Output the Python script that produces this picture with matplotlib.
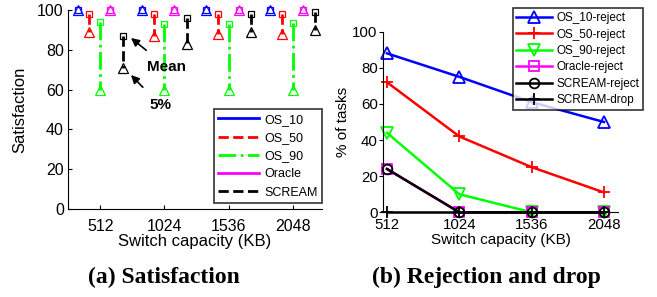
import matplotlib.pyplot as plt
import numpy as np

plt.rcParams['font.family'] = ['Liberation Sans', 'DejaVu Sans']

# switch capacities (KB)
caps = [512, 1024, 1536, 2048]

# (a) satisfaction: mean and 5th percentile per scheme
schemes = ["OS_10", "OS_50", "OS_90", "Oracle", "SCREAM"]
sat_mean = {
    "OS_10": [100, 100, 100, 100],
    "OS_50": [98, 98, 98, 98],
    "OS_90": [94, 93, 93, 93.5],
    "Oracle": [100, 100, 100, 100],
    "SCREAM": [87, 96, 98, 99],
}
sat_p5 = {
    "OS_10": [100, 100, 100, 100],
    "OS_50": [89, 87, 88, 88],
    "OS_90": [60, 60, 60, 60],
    "Oracle": [100, 100, 100, 100],
    "SCREAM": [71, 83, 89, 90],
}

# (b) rejection and drop (% of tasks)
rej_labels = ["OS_10-reject", "OS_50-reject", "OS_90-reject",
              "Oracle-reject", "SCREAM-reject", "SCREAM-drop"]
rej_vals = {
    "OS_10-reject": [88, 75, 61, 50],
    "OS_50-reject": [72, 42, 25, 11],
    "OS_90-reject": [44, 10, 0, 0],
    "Oracle-reject": [24, 0, 0, 0],
    "SCREAM-reject": [24, 0, 0, 0],
    "SCREAM-drop": [0, 0, 0, 0],
}

# styles
sch_color = {"OS_10": "#0000ff", "OS_50": "#ff0000", "OS_90": "#00ff00",
             "Oracle": "#ff00ff", "SCREAM": "#000000"}
sch_ls = {"OS_10": "-", "OS_50": "--", "OS_90": "-.", "Oracle": "-", "SCREAM": "--"}
sch_off = {"OS_10": -180, "OS_50": -85, "OS_90": 0, "Oracle": 80, "SCREAM": 180}

rej_style = {
    "OS_10-reject": ("#0000ff", "^"),
    "OS_50-reject": ("#ff0000", "+"),
    "OS_90-reject": ("#00ff00", "v"),
    "Oracle-reject": ("#ff00ff", "s"),
    "SCREAM-reject": ("#000000", "o"),
    "SCREAM-drop": ("#000000", "+"),
}

fig = plt.figure(figsize=(6.57, 2.97), dpi=100)

# ---------- (a) Satisfaction ----------
ax1 = fig.add_axes([68/657, 1-209/297, (322-68)/657, (209-10)/297])
for s in schemes:
    c = sch_color[s]
    for i, cap in enumerate(caps):
        x = cap + sch_off[s]
        ax1.plot([x, x], [sat_mean[s][i], sat_p5[s][i]], color=c, ls=sch_ls[s], lw=2,
                 clip_on=False)
        ax1.plot(x, sat_mean[s][i], marker="s", ms=5, mfc="none", mec=c, mew=0.9, clip_on=False)
        ax1.plot(x, sat_p5[s][i], marker="^", ms=6.5, mfc="none", mec=c, mew=0.9, clip_on=False)
# legend handles (lines only)
handles = [plt.Line2D([], [], color=sch_color[s], ls=sch_ls[s], lw=2) for s in schemes]
leg1 = ax1.legend(handles, schemes, loc="lower right", bbox_to_anchor=(1.0, 0.03),
                  fontsize=9, frameon=True, fancybox=False, handlelength=3.3,
                  handletextpad=0.4, labelspacing=0.5, borderpad=0.35, borderaxespad=0)
leg1.get_frame().set_edgecolor("black")
leg1.get_frame().set_linewidth(1.2)

ax1.set_xlim(256, 2280)
ax1.set_ylim(0, 100)
ax1.set_xticks(caps)
ax1.set_yticks([0, 20, 40, 60, 80, 100])
ax1.tick_params(labelsize=11.5, direction="in", length=3, pad=3)
ax1.tick_params(axis="x", pad=7.5)
ax1.spines["top"].set_visible(False)
ax1.spines["right"].set_visible(False)
ax1.set_xlabel("Switch capacity (KB)", fontsize=12, labelpad=0)
ax1.set_ylabel("Satisfaction", fontsize=12, labelpad=7)

# annotations (figure pixel coordinates converted)
def fpx(x, y):
    return (x/657, 1-y/297)

ax1.annotate("Mean", xy=fpx(131, 38), xycoords="figure fraction",
             xytext=fpx(167, 67), textcoords="figure fraction",
             fontsize=11, fontweight="bold", ha="center", va="center",
             arrowprops=dict(arrowstyle="-|>", color="black", lw=1.2,
                             shrinkA=8, shrinkB=0, mutation_scale=12))
ax1.annotate("5%", xy=fpx(131, 75), xycoords="figure fraction",
             xytext=fpx(160, 105), textcoords="figure fraction",
             fontsize=11, fontweight="bold", ha="center", va="center",
             arrowprops=dict(arrowstyle="-|>", color="black", lw=1.2,
                             shrinkA=8, shrinkB=0, mutation_scale=12))

fig.text(164/657, 1-277/297, "(a) Satisfaction", family="Liberation Serif",
         fontweight="bold", fontsize=17, ha="center", va="center")

# ---------- (b) Rejection and drop ----------
ax2 = fig.add_axes([383.3/657, 1-212.3/297, (618-383.3)/657, (212.3-31.7)/297])
for lab in rej_labels:
    c, m = rej_style[lab]
    ms = 8 if m in ("^", "v") else (7 if m in ("o", "s") else 9)
    ax2.plot(caps, rej_vals[lab], color=c, lw=1.8, marker=m, ms=ms, mfc="none",
             mec=c, mew=1.3, clip_on=False, label=lab)
leg2 = ax2.legend(loc="lower right", bbox_to_anchor=(643/657, 1-110/297),
                  bbox_transform=fig.transFigure, fontsize=8.5, frameon=True,
                  fancybox=False, handlelength=3.0, handletextpad=0.4,
                  labelspacing=0.38, borderpad=0.3, borderaxespad=0)
leg2.get_frame().set_edgecolor("black")
leg2.get_frame().set_linewidth(1.2)

ax2.set_xlim(486, 2147)
ax2.set_ylim(0, 100)
ax2.set_xticks(caps)
ax2.set_yticks([0, 20, 40, 60, 80, 100])
ax2.tick_params(labelsize=10.8, direction="out", length=3, pad=1)
ax2.spines["top"].set_visible(False)
ax2.spines["right"].set_visible(False)
ax2.set_xlabel("Switch capacity (KB)", fontsize=11, labelpad=1)
ax2.set_ylabel("% of tasks", fontsize=11, labelpad=2)

fig.text(486/657, 1-277/297, "(b) Rejection and drop", family="Liberation Serif",
         fontweight="bold", fontsize=17, ha="center", va="center")

fig.savefig("out.png", dpi=100)
